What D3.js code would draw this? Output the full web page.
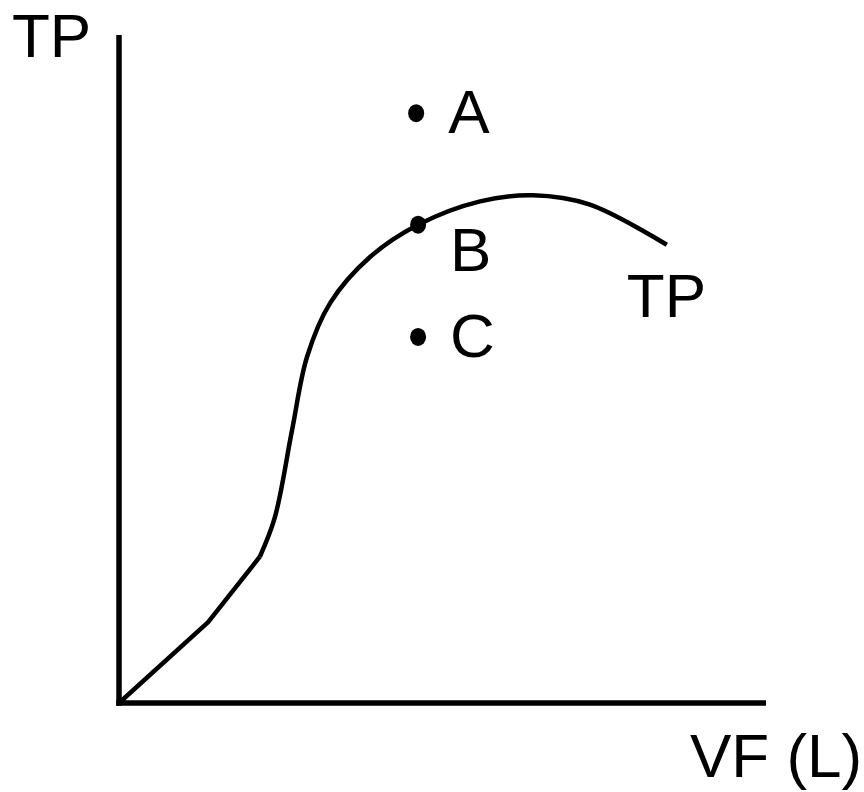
<!DOCTYPE html>
<html>
<head>
<meta charset="utf-8">
<script src="https://cdn.jsdelivr.net/npm/d3@7"></script>
<style>
  body { margin: 0; background: #fff; }
  svg { display: block; }
  text { font-family: "Liberation Sans", Arial, sans-serif; fill: #000; }
</style>
</head>
<body>
<svg width="864" height="792"></svg>
<script>
// curve (data units 0..10 on both axes)
var tpX = [0, 1.38, 2.18, 2.41, 2.68, 2.91, 3.27, 3.89, 4.63, 5.59, 6.41, 7.29, 8.48];
var tpY = [0, 1.21, 2.19, 2.77, 4.09, 5.18, 5.99, 6.68, 7.16, 7.51, 7.60, 7.46, 6.86];
var kinkIndex = 2; // straight segments up to here, smooth after

var pointNames = ['A', 'B', 'C'];
var pointX = [4.60, 4.63, 4.63];
var pointY = [8.83, 7.16, 5.48];

var yTitle = 'TP', xTitle = 'VF (L)', curveName = 'TP';

var svg = d3.select('svg'),
	font_size = 62,
	line_width = 4.5,
	axis_width = 5.5,
	dot_rx = 8,
	dot_ry = 9;

var x = d3.scaleLinear().domain([0, 10]).range([119, 765]);
var y = d3.scaleLinear().domain([0, 10]).range([703, 35]);

var data = tpX.map(function(d, i) { return {x: d, y: tpY[i]}; });

// axes
svg.append('line')
	.attr('x1', x(0)).attr('x2', x(0))
	.attr('y1', y(0) + axis_width / 2).attr('y2', y(10))
	.attr('stroke', '#000').attr('stroke-width', axis_width);
svg.append('line')
	.attr('x1', x(0) - axis_width / 2).attr('x2', x(10) + 1)
	.attr('y1', y(0)).attr('y2', y(0))
	.attr('stroke', '#000').attr('stroke-width', axis_width);

// the TP curve
var straight = d3.line()
	.x(function(d) { return x(d.x); })
	.y(function(d) { return y(d.y); })
	.curve(d3.curveLinear);
var smooth = d3.line()
	.x(function(d) { return x(d.x); })
	.y(function(d) { return y(d.y); })
	.curve(d3.curveCatmullRom.alpha(0.5));

svg.append('path')
	.attr('d', straight(data.slice(0, kinkIndex + 1)))
	.attr('fill', 'none').attr('stroke', '#000')
	.attr('stroke-width', line_width).attr('stroke-linejoin', 'round');
svg.append('path')
	.attr('d', smooth(data.slice(kinkIndex)))
	.attr('fill', 'none').attr('stroke', '#000')
	.attr('stroke-width', line_width);

// points A, B, C
var pts = pointNames.map(function(n, i) { return {name: n, x: pointX[i], y: pointY[i]}; });
svg.selectAll('ellipse.pt')
	.data(pts)
	.enter().append('ellipse')
	.attr('class', 'pt')
	.attr('cx', function(d) { return x(d.x); })
	.attr('cy', function(d) { return y(d.y); })
	.attr('rx', dot_rx)
	.attr('ry', dot_ry)
	.attr('fill', '#000');

svg.selectAll('text.pt')
	.data(pts)
	.enter().append('text')
	.attr('class', 'pt')
	.attr('x', function(d) { return x(d.x) + 32; })
	.attr('y', function(d) { return y(d.y) + (d.name == 'B' ? 46 : 20); })
	.attr('font-size', font_size)
	.text(function(d) { return d.name; });

// titles
svg.append('text').attr('x', 12).attr('y', 57).attr('font-size', font_size).text(yTitle);
svg.append('text').attr('x', 690).attr('y', 777).attr('font-size', font_size).text(xTitle);
svg.append('text')
	.attr('x', x(tpX[tpX.length - 1]) - 40)
	.attr('y', y(tpY[tpY.length - 1]) + 72)
	.attr('font-size', font_size)
	.text(curveName);
</script>
</body>
</html>
